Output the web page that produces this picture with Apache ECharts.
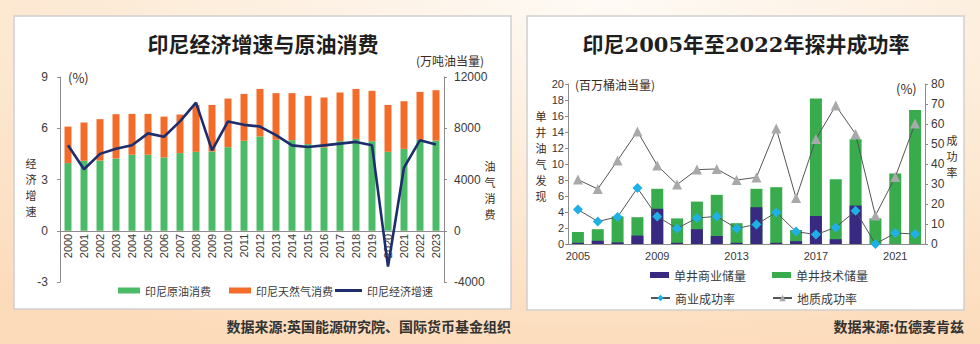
<!DOCTYPE html>
<html>
<head>
<meta charset="utf-8">
<script src="https://cdn.jsdelivr.net/npm/echarts@6/dist/echarts.min.js"></script>
<style>
  html, body { margin: 0; padding: 0; background: #fde6cf; }
  #chart { width: 980px; height: 344px; }
</style>
</head>
<body>
<div id="chart"></div>
<script>
// ---- Left panel: Indonesia GDP growth and oil/gas consumption ----
const years = ['2000','2001','2002','2003','2004','2005','2006','2007','2008','2009','2010','2011',
               '2012','2013','2014','2015','2016','2017','2018','2019','2020','2021','2022','2023'];
// crude oil consumption (万吨油当量)
const oilUse = [5280, 5460, 5480, 5640, 5930, 5930, 5720, 6060, 6160, 6190, 6520, 7020,
                7360, 7100, 7070, 6760, 6500, 6990, 7170, 6990, 6160, 6390, 7100, 7040];
// natural gas consumption (万吨油当量)
const gasUse = [2850, 2990, 3230, 3460, 3190, 3190, 3190, 3010, 3640, 3630, 3800, 3660,
                3710, 3640, 3670, 3770, 3900, 3800, 3900, 3930, 3660, 3720, 3740, 3930];
// GDP growth (%)
const gdpGrowth = [5.0, 3.6, 4.5, 4.8, 5.0, 5.7, 5.5, 6.4, 7.5, 4.7, 6.4, 6.2,
                   6.1, 5.6, 5.0, 4.9, 5.0, 5.1, 5.2, 5.0, -2.1, 3.7, 5.3, 5.05];
const growthTicks = { min: -3, max: 9, interval: 3 };
const energyTicks = { min: -4000, max: 12000, interval: 4000 };

// ---- Right panel: exploration well success, 2005-2022 ----
const wellYears = ['2005','2006','2007','2008','2009','2010','2011','2012','2013',
                   '2014','2015','2016','2017','2018','2019','2020','2021','2022'];
// per-well commercial reserves (百万桶油当量)
const commercialReserve = [0.15, 0.4, 0.2, 1.05, 4.4, 0.15, 1.85, 1.0, 0.15,
                           4.6, 0.15, 0.35, 3.5, 0.6, 4.8, 0, 0, 0];
// per-well technical reserves (百万桶油当量)
const technicalReserve = [1.5, 1.85, 3.45, 3.35, 6.9, 3.2, 5.3, 6.15, 2.6,
                          6.9, 7.1, 1.75, 18.2, 8.1, 13.1, 3.2, 8.8, 16.75];
// commercial success rate (%)
const commercialRate = [17.2, 11.3, 13.5, 28, 13.7, 7.8, 13, 13.8, 7.8,
                        9.8, 15.8, 6.2, 4.7, 8.3, 16.6, 0, 5.5, 5];
// geological success rate (%)
const geoRate = [32.2, 27.5, 41.8, 56.3, 39.3, 29.7, 37.2, 37.5, 32,
                 33.3, 57.7, 23, 52.5, 69.2, 55, 14.2, 33.5, 60.2];
const reserveTicks = { min: 0, max: 20, interval: 2 };
const rateTicks = { min: 0, max: 80, interval: 10 };

const SANS = "'Liberation Sans', 'Noto Sans CJK SC', sans-serif";
const CJK = "'Noto Sans CJK SC', sans-serif";
const TITLE_FONT = "'DejaVu Serif', 'Noto Sans CJK SC', serif";
const AXIS_GRAY = '#8c8c8c';
const LABEL = '#3a3a3a';
const NAME = '#3b2a1c';

// grid geometry of the left panel, used to put the year labels under the zero line
const leftGrid = { left: 60, width: 384, top: 77, height: 205 };
const zeroOffset = leftGrid.height * (growthTicks.max - 0) / (growthTicks.max - growthTicks.min);
const yearLabelMargin = -(leftGrid.height - zeroOffset) + 3;

function plain(v) { return String(v); }

function txt(text, x, y, opts) {
  return {
    type: 'text', z: 50,
    style: Object.assign({
      text: text, x: x, y: y, fill: LABEL,
      font: '12px ' + CJK, align: 'left', verticalAlign: 'middle'
    }, opts || {})
  };
}

// stacked (top-to-bottom) axis title, one glyph per element
function verticalTitle(text, x, yCenter, pitch) {
  const chars = text.split('');
  const y0 = yCenter - pitch * (chars.length - 1) / 2;
  return chars.map((c, i) => txt(c, x, y0 + i * pitch,
    { font: '11px ' + CJK, fill: NAME, align: 'center' }));
}

const legendText = (size) => ({ fontSize: size, color: LABEL, fontFamily: CJK });

const chart = echarts.init(document.getElementById('chart'), null, { renderer: 'svg' });

const option = {
  animation: false,
  graphic: [
    { type: 'rect', z: -10, shape: { x: 0, y: 0, width: 980, height: 344 },
      style: { fill: new echarts.graphic.RadialGradient(0.62, 0.0, 1.05, [
        { offset: 0, color: '#fefaf5' },
        { offset: 0.45, color: '#fdecd9' },
        { offset: 1, color: '#fcdbba' }]) } },
    { type: 'rect', z: -9, shape: { x: 14, y: 16, width: 497, height: 293 },
      style: { fill: '#ffffff', stroke: '#cfcfcf', lineWidth: 1.5 } },
    { type: 'rect', z: -9, shape: { x: 527, y: 16, width: 437, height: 294 },
      style: { fill: '#ffffff', stroke: '#cfcfcf', lineWidth: 1.5 } },

    txt('印尼经济增速与原油消费', 263, 44, { font: 'bold 21px ' + TITLE_FONT, fill: '#1e1e1e', align: 'center' }),
    txt('印尼2005年至2022年探井成功率', 746, 44, { font: 'bold 21px ' + TITLE_FONT, fill: '#1e1e1e', align: 'center' }),

    txt('(%)', 68, 77, { font: '13px ' + CJK, fill: NAME }),
    txt('(万吨油当量)', 416, 60, { font: '12px ' + CJK, fill: NAME }),
    ...verticalTitle('经济增速', 31, 187, 16),
    ...verticalTitle('油气消费', 490, 190, 16),

    txt('(百万桶油当量)', 575, 84, { font: '12px ' + CJK, fill: NAME }),
    txt('(%)', 896, 88, { font: '13px ' + CJK, fill: NAME }),
    ...verticalTitle('单井油气发现', 541, 156, 16),
    ...verticalTitle('成功率', 952, 156, 16),

    txt('数据来源:英国能源研究院、国际货币基金组织', 511, 326, { font: 'bold 14px ' + CJK, fill: '#333333', align: 'right' }),
    txt('数据来源:伍德麦肯兹', 964, 326, { font: 'bold 14px ' + CJK, fill: '#333333', align: 'right' })
  ],
  legend: [
    { left: 113, top: 280, itemWidth: 22, itemHeight: 6, itemGap: 18,
      textStyle: legendText(11),
      data: [{ name: '印尼原油消费', icon: 'rect' }, { name: '印尼天然气消费', icon: 'rect' }] },
    { left: 330, top: 280, itemWidth: 27, itemHeight: 3, textStyle: legendText(11),
      data: [{ name: '印尼经济增速', icon: 'rect' }] },
    { left: 645, top: 264, itemWidth: 19, itemHeight: 6, textStyle: legendText(12),
      data: [{ name: '单井商业储量', icon: 'rect' }] },
    { left: 767, top: 264, itemWidth: 19, itemHeight: 6, textStyle: legendText(12),
      data: [{ name: '单井技术储量', icon: 'rect' }] },
    { left: 645, top: 287, itemWidth: 19, itemHeight: 8, textStyle: legendText(12),
      data: ['商业成功率'] },
    { left: 767, top: 287, itemWidth: 19, itemHeight: 8, textStyle: legendText(12),
      data: ['地质成功率'] }
  ],
  grid: [
    leftGrid,
    { left: 568, width: 357, top: 84, height: 160 }
  ],
  xAxis: [
    { type: 'category', gridIndex: 0, data: years,
      axisLine: { onZero: true, onZeroAxisIndex: 0, lineStyle: { color: AXIS_GRAY, width: 1 } },
      axisTick: { show: false },
      axisLabel: { rotate: 90, fontSize: 11, color: LABEL, fontFamily: SANS,
                   margin: yearLabelMargin, interval: 0 } },
    { type: 'category', gridIndex: 1, data: wellYears,
      axisLine: { lineStyle: { color: AXIS_GRAY, width: 1 } },
      axisTick: { show: false },
      axisLabel: { fontSize: 11, color: LABEL, fontFamily: SANS, margin: 6, interval: 3 } }
  ],
  yAxis: [
    { type: 'value', gridIndex: 0, position: 'left',
      min: growthTicks.min, max: growthTicks.max, interval: growthTicks.interval,
      splitLine: { show: false },
      axisLine: { show: true, lineStyle: { color: AXIS_GRAY } },
      axisTick: { show: true, length: 3, lineStyle: { color: AXIS_GRAY } },
      axisLabel: { fontSize: 12, color: LABEL, fontFamily: SANS, margin: 12, formatter: plain } },
    { type: 'value', gridIndex: 0, position: 'right',
      min: energyTicks.min, max: energyTicks.max, interval: energyTicks.interval,
      splitLine: { show: false },
      axisLine: { show: true, lineStyle: { color: AXIS_GRAY } },
      axisTick: { show: true, length: 3, lineStyle: { color: AXIS_GRAY } },
      axisLabel: { fontSize: 12, color: LABEL, fontFamily: SANS, margin: 10, formatter: plain } },
    { type: 'value', gridIndex: 1, position: 'left',
      min: reserveTicks.min, max: reserveTicks.max, interval: reserveTicks.interval,
      splitLine: { show: false },
      axisLine: { show: true, lineStyle: { color: AXIS_GRAY } },
      axisTick: { show: true, length: 3, lineStyle: { color: AXIS_GRAY } },
      axisLabel: { fontSize: 11, color: LABEL, fontFamily: SANS, margin: 4, formatter: plain } },
    { type: 'value', gridIndex: 1, position: 'right',
      min: rateTicks.min, max: rateTicks.max, interval: rateTicks.interval,
      splitLine: { show: false },
      axisLine: { show: true, lineStyle: { color: AXIS_GRAY } },
      axisTick: { show: true, length: 3, lineStyle: { color: AXIS_GRAY } },
      axisLabel: { fontSize: 12, color: LABEL, fontFamily: SANS, margin: 6, formatter: plain } }
  ],
  series: [
    { name: '印尼原油消费', type: 'bar', xAxisIndex: 0, yAxisIndex: 1, stack: 'energy',
      barWidth: 7, data: oilUse, itemStyle: { color: '#4cbb68' } },
    { name: '印尼天然气消费', type: 'bar', xAxisIndex: 0, yAxisIndex: 1, stack: 'energy',
      barWidth: 7, data: gasUse, itemStyle: { color: '#f36c2a' } },
    { name: '印尼经济增速', type: 'line', xAxisIndex: 0, yAxisIndex: 0,
      data: gdpGrowth, symbol: 'none', z: 5,
      lineStyle: { color: '#1e2d6d', width: 2.6 }, itemStyle: { color: '#1e2d6d' } },

    { name: '单井技术储量', type: 'bar', xAxisIndex: 1, yAxisIndex: 2,
      barWidth: 12, barGap: '-100%', data: technicalReserve, itemStyle: { color: '#38ab4d' } },
    { name: '单井商业储量', type: 'bar', xAxisIndex: 1, yAxisIndex: 2,
      barWidth: 12, barGap: '-100%', data: commercialReserve, itemStyle: { color: '#372a80' } },
    { name: '地质成功率', type: 'line', xAxisIndex: 1, yAxisIndex: 3,
      data: geoRate, symbol: 'triangle', symbolSize: 10, z: 5,
      lineStyle: { color: '#555555', width: 1 }, itemStyle: { color: '#a7a9ab' } },
    { name: '商业成功率', type: 'line', xAxisIndex: 1, yAxisIndex: 3,
      data: commercialRate, symbol: 'diamond', symbolSize: 10, z: 6,
      lineStyle: { color: '#555555', width: 1 }, itemStyle: { color: '#1fb0e6' } }
  ]
};

chart.setOption(option);
</script>
</body>
</html>
